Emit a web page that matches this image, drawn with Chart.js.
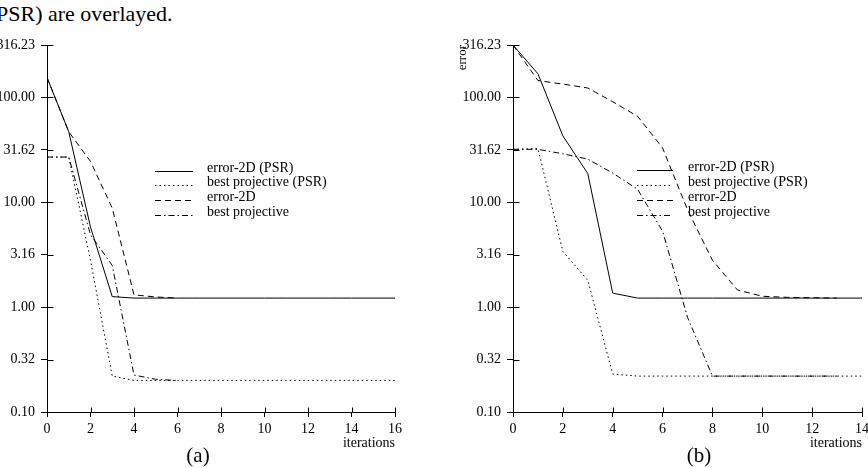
<!DOCTYPE html>
<html><head><meta charset="utf-8">
<script src="https://cdn.jsdelivr.net/npm/chart.js@4.4.0/dist/chart.umd.min.js"></script>
<style>
html,body{margin:0;padding:0;background:#fff;overflow:hidden;width:868px;height:468px;}
#wrap{position:relative;width:868px;height:468px;overflow:hidden;font-family:"Liberation Serif","Times New Roman",serif;color:#000;}
canvas{position:absolute;top:0;}
#topText{position:absolute;left:-4px;top:1px;font-size:22px;line-height:26px;white-space:nowrap;}
.sub{position:absolute;top:443px;font-size:21px;line-height:24px;transform:translateX(-50%);white-space:nowrap;}
.lg{position:absolute;font-size:14px;line-height:16px;white-space:nowrap;}
.lg svg{position:absolute;overflow:visible;}
.lg span{position:absolute;}
</style></head>
<body><div id="wrap">
<div id="topText">PSR) are overlayed.</div>
<canvas id="cA" width="430" height="468" style="left:0px"></canvas>
<canvas id="cB" width="445" height="468" style="left:430px"></canvas>
<div class="sub" style="left:198px">(a)</div>
<div class="sub" style="left:699px">(b)</div>
<div id="lgA" class="lg" style="left:155px;top:0px"></div>
<div id="lgB" class="lg" style="left:637px;top:0px"></div>
</div>
<script>
const seriesNames = ['error-2D (PSR)', 'best projective (PSR)', 'error-2D', 'best projective'];

// panel (a)
const itersA   = [0,1,2,3,4,5,6,7,8,9,10,11,12,13,14,15,16];
const errPsrA  = [155,47,5.8,1.26,1.22,1.22,1.22,1.22,1.22,1.22,1.22,1.22,1.22,1.22,1.22,1.22,1.22];
const bestPsrA = [27,27,2.8,0.22,0.20,0.20,0.20,0.20,0.20,0.20,0.20,0.20,0.20,0.20,0.20,0.20,0.20];
const err2dA   = [155,47,24.5,8.8,1.31,1.25,1.22];
const bestA    = [27,27,4.9,2.5,0.225,0.205,0.20];

// panel (b)
const itersB   = [0,1,2,3,4,5,6,7,8,9,10,11,12,13,14];
const errPsrB  = [316,168,43,18.8,1.36,1.22,1.22,1.22,1.22,1.22,1.22,1.22,1.22,1.22,1.22];
const bestPsrB = [32,32.5,3.4,1.8,0.23,0.22,0.22,0.22,0.22,0.22,0.22,0.22,0.22,0.22,0.22];
const err2dB   = [316,145,134,123,91,66,33,8.5,2.8,1.46,1.27,1.24,1.23,1.22];
const bestB    = [32,32,29,25.8,19,13.3,5.3,0.8,0.22,0.22,0.22,0.22,0.22,0.22];

const yTickValues = [0.1,0.31623,1,3.1623,10,31.623,100,316.23];
const yTickLabels = ['0.10','0.32','1.00','3.16','10.00','31.62','100.00','316.23'];
const xTicksA = [0,2,4,6,8,10,12,14,16];
const xTicksB = [0,2,4,6,8,10,12,14];

const dashStyles = [[], [1.5,3], [6,4], [6,3,1.5,3]];
const FONT = '"Liberation Serif","Times New Roman",serif';

const innerTicks = {
  id: 'innerTicks',
  afterDraw(chart) {
    const {ctx, chartArea, scales} = chart;
    ctx.save();
    ctx.strokeStyle = '#000';
    ctx.lineWidth = 1;
    ctx.beginPath();
    const ax = Math.round(chartArea.left) + 0.5;
    scales.y.ticks.forEach(t => {
      const p = Math.round(scales.y.getPixelForValue(t.value)) + 0.5;
      ctx.moveTo(ax, p); ctx.lineTo(ax + 6, p);
    });
    const ay = Math.round(chartArea.bottom) + 0.5;
    scales.x.ticks.forEach(t => {
      const p = Math.round(scales.x.getPixelForValue(t.value)) + 0.5;
      ctx.moveTo(p, ay); ctx.lineTo(p, ay - 5);
    });
    ctx.stroke();
    ctx.restore();
  }
};

function makeChart(id, iters, seriesList, xMax, xTicks, yWidth, padRight, yTitle) {
  const datasets = seriesList.map((vals, k) => ({
    label: seriesNames[k],
    data: vals.map((v, i) => ({x: iters[i], y: v})),
    borderColor: '#000',
    borderWidth: 1,
    borderDash: dashStyles[k],
    pointRadius: 0,
    tension: 0,
    fill: false
  }));
  return new Chart(document.getElementById(id), {
    type: 'line',
    data: {datasets},
    plugins: [innerTicks],
    options: {
      responsive: false,
      animation: false,
      devicePixelRatio: 1,
      layout: {padding: {top: 45, right: padRight, left: 0, bottom: 0}},
      plugins: {legend: {display: false}, tooltip: {enabled: false}},
      scales: {
        x: {
          type: 'linear', min: 0, max: xMax,
          afterBuildTicks: s => { s.ticks = xTicks.map(v => ({value: v})); },
          afterFit: s => { s.height = 56; },
          ticks: {color: '#000', font: {family: FONT, size: 14}, padding: 4, maxRotation: 0, autoSkip: false,
                  callback: v => String(v)},
          grid: {display: true, drawOnChartArea: false, drawTicks: true, tickLength: 5, color: '#000', lineWidth: 1},
          border: {display: true, color: '#000', width: 1},
          title: {display: true, text: 'iterations', align: 'end', color: '#000',
                  font: {family: FONT, size: 14}, padding: {top: 0, bottom: 16}}
        },
        y: {
          type: 'logarithmic', min: 0.1, max: 316.23,
          afterBuildTicks: s => { s.ticks = yTickValues.map(v => ({value: v})); },
          afterFit: s => { s.width = yWidth; },
          ticks: {color: '#000', font: {family: FONT, size: 14}, padding: 6, autoSkip: false,
                  callback: (v, i) => yTickLabels[i]},
          grid: {display: true, drawOnChartArea: false, drawTicks: true, tickLength: 6, color: '#000', lineWidth: 1},
          border: {display: true, color: '#000', width: 1},
          title: {display: !!yTitle, text: yTitle || '', align: 'end', color: '#000',
                  font: {family: FONT, size: 13}, padding: {top: 25, bottom: 0}}
        }
      }
    }
  });
}

makeChart('cA', itersA, [errPsrA, bestPsrA, err2dA, bestA], 16, xTicksA, 47, 35, null);
makeChart('cB', itersB, [errPsrB, bestPsrB, err2dB, bestB], 14, xTicksB, 83, 13, 'error');

function makeLegend(elId, firstCenter, spacing, lineLen, textOffset) {
  const el = document.getElementById(elId);
  seriesNames.forEach((name, k) => {
    const c = firstCenter + spacing * k;
    const svgNS = 'http://www.w3.org/2000/svg';
    const svg = document.createElementNS(svgNS, 'svg');
    svg.setAttribute('width', lineLen);
    svg.setAttribute('height', 4);
    svg.style.left = '0px';
    svg.style.top = (c + 3 - 2) + 'px';
    const ln = document.createElementNS(svgNS, 'line');
    ln.setAttribute('x1', 0); ln.setAttribute('x2', lineLen);
    ln.setAttribute('y1', 2.5); ln.setAttribute('y2', 2.5);
    ln.setAttribute('stroke', '#000');
    ln.setAttribute('stroke-width', 1);
    if (dashStyles[k].length) ln.setAttribute('stroke-dasharray', dashStyles[k].join(' '));
    svg.appendChild(ln);
    el.appendChild(svg);
    const sp = document.createElement('span');
    sp.textContent = name;
    sp.style.left = textOffset + 'px';
    sp.style.top = (c - 8) + 'px';
    el.appendChild(sp);
  });
}
makeLegend('lgA', 167.5, 14.7, 38, 52);
makeLegend('lgB', 167, 15, 36, 51);
</script>
</body></html>
